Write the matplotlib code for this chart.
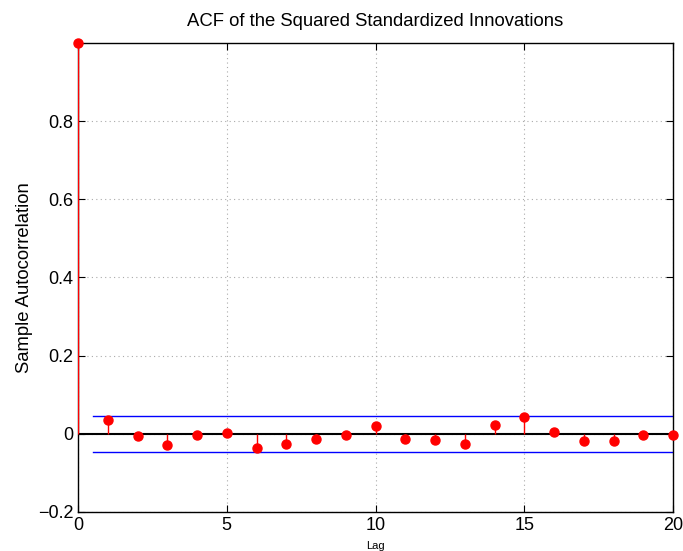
import matplotlib
matplotlib.use("Agg")
import matplotlib.pyplot as plt
import numpy as np

lags = list(range(0, 21))
acf = [1.0, 0.035, -0.006, -0.029, -0.002, 0.001, -0.035, -0.026, -0.014, -0.002,
       0.020, -0.014, -0.017, -0.027, 0.023, 0.043, 0.005, -0.019, -0.019, -0.004, -0.002]
bound = 0.0455
bound_x = [0.5, 20]

plt.rcParams['font.family'] = ['Liberation Sans', 'DejaVu Sans']

fig = plt.figure(figsize=(6.83, 5.51), dpi=100)
ax = fig.add_axes([78/683, 1-512/551, (673-78)/683, (512-43)/551])

ax.axhline(0, color='black', lw=1.5, zorder=2)
ax.plot(bound_x, [bound, bound], color='blue', lw=1.0, zorder=2)
ax.plot(bound_x, [-bound, -bound], color='blue', lw=1.0, zorder=2)
ax.vlines(lags, 0, acf, color='red', lw=1.0, zorder=3)
ax.plot(lags, acf, 'o', color='red', markersize=6.5, zorder=4, clip_on=False)

ax.set_xlim(0, 20)
ax.set_ylim(-0.2, 1.0)
ax.set_xticks([0, 5, 10, 15, 20])
ax.set_yticks([-0.2, 0, 0.2, 0.4, 0.6, 0.8])
ax.set_yticklabels(['\u22120.2', '0', '0.2', '0.4', '0.6', '0.8'])
ax.grid(True, color='#aaaaaa', linestyle=(0, (1, 3)), lw=0.8)
ax.tick_params(direction='in', length=5, labelsize=13, top=True, right=True, width=0.8)
for s in ax.spines.values():
    s.set_linewidth(1.0)
ax.set_title('ACF of the Squared Standardized Innovations', fontsize=13.3, pad=12)
ax.set_ylabel('Sample Autocorrelation', fontsize=13.3, labelpad=3.5)
ax.set_xlabel('Lag', fontsize=8, labelpad=5)

fig.savefig('out.png', dpi=100)
